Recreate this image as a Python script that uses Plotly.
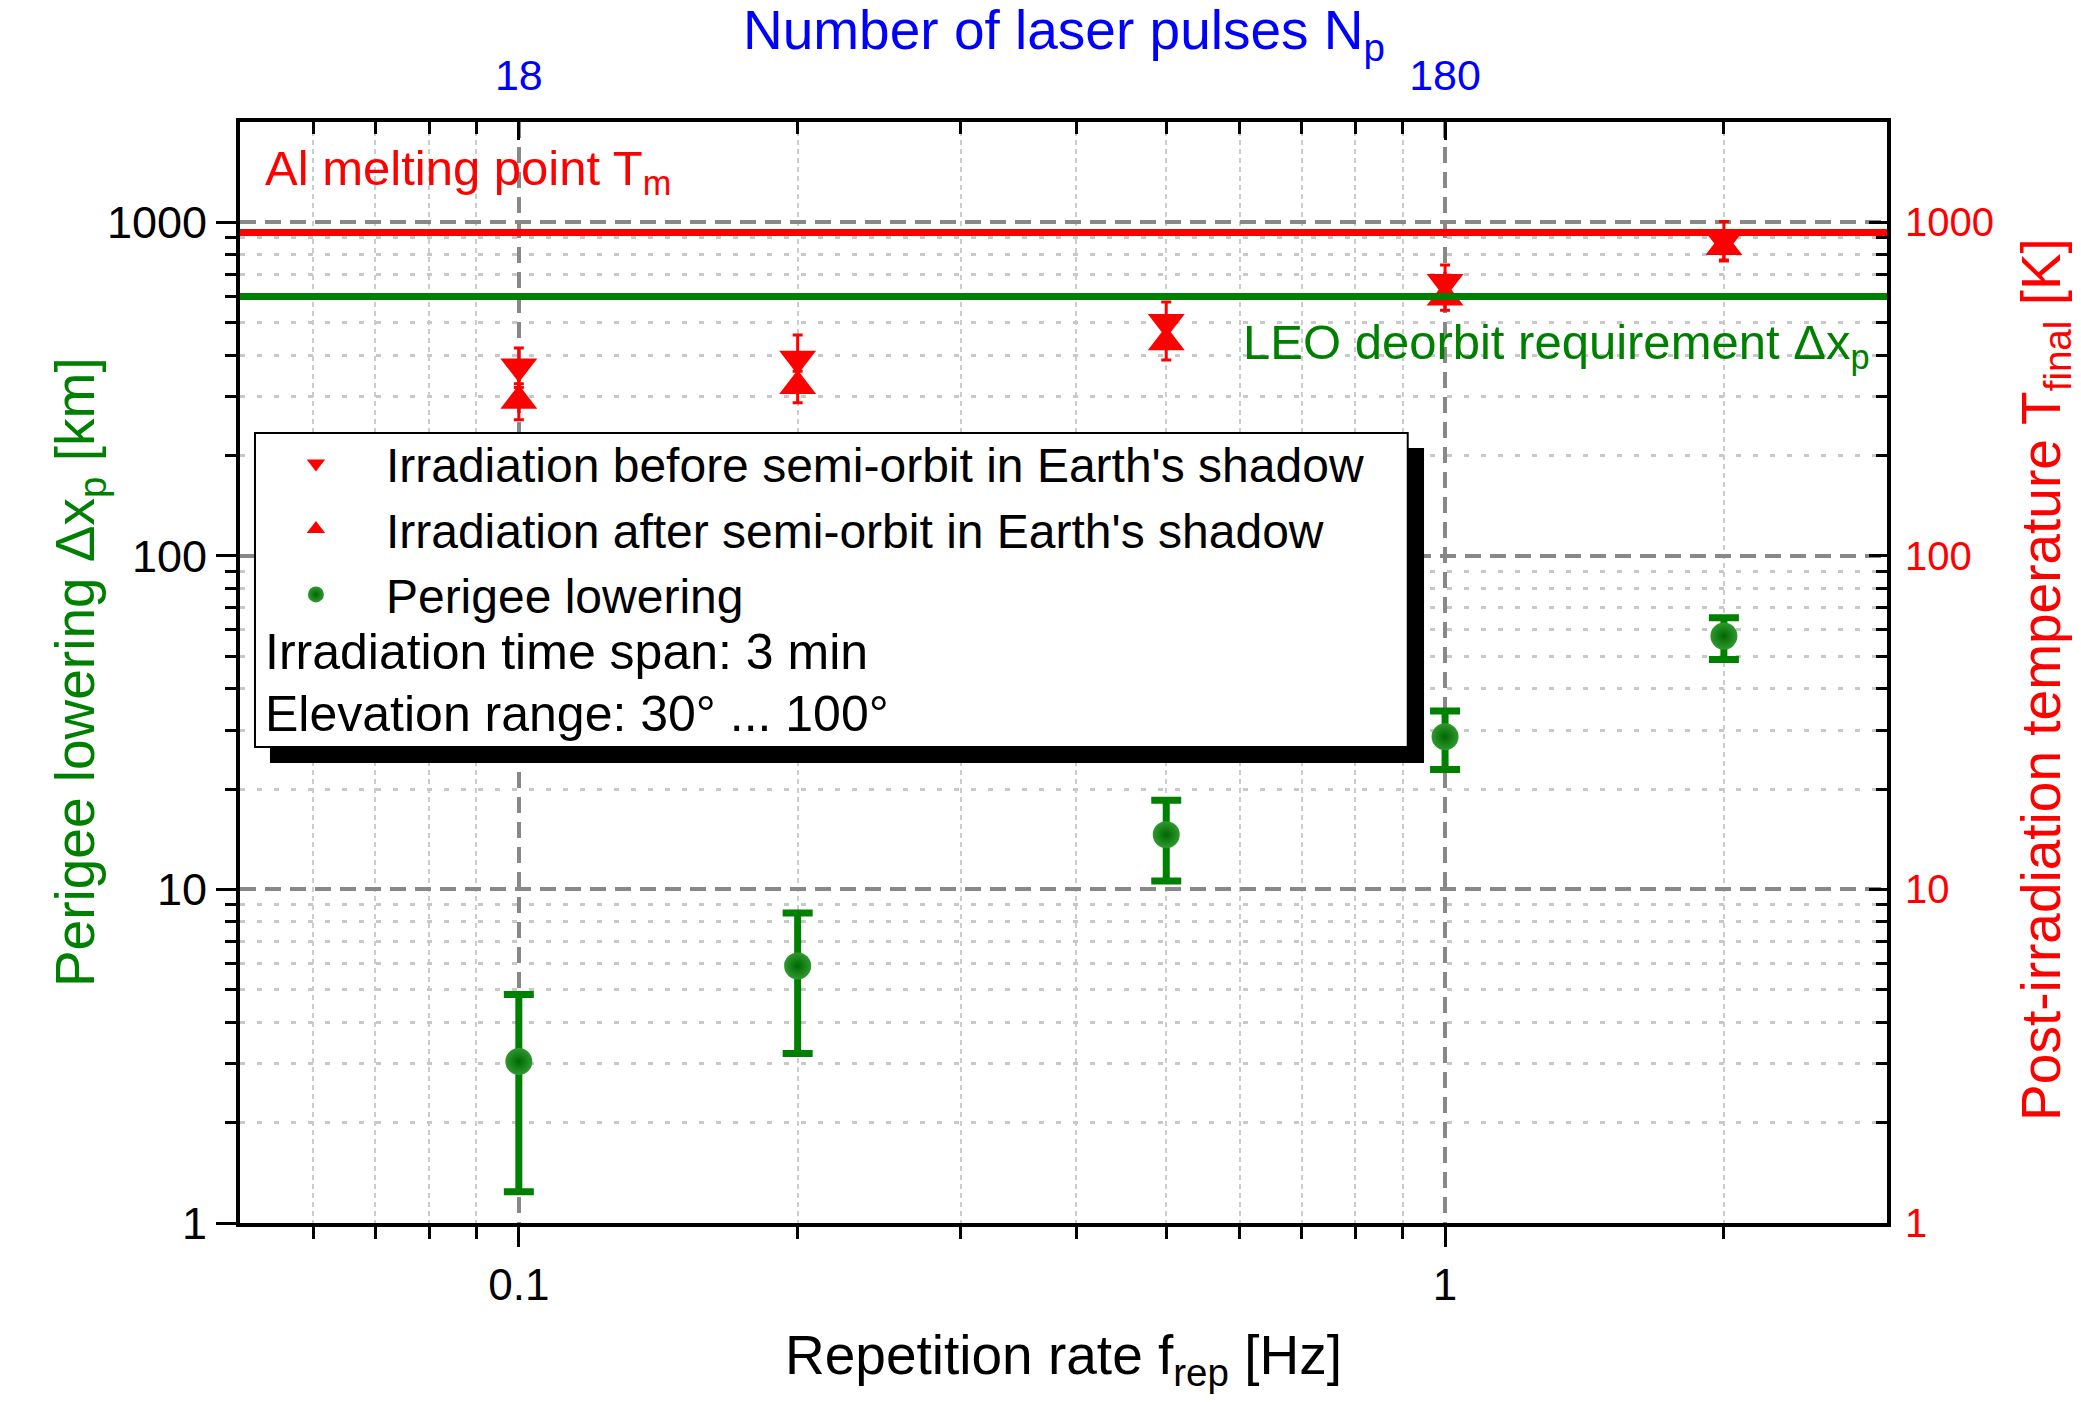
import math
import plotly.graph_objects as go

# ---------------- data ----------------
rep_rate = [0.1, 0.2, 0.5, 1, 2]                      # Hz
perigee = [3.05, 5.9, 14.6, 28.7, 57.5]               # km
perigee_upper = [4.84, 8.5, 18.5, 34.3, 65.3]
perigee_lower = [1.24, 3.22, 10.6, 22.9, 48.9]
T_before = [370, 390, 503, 663, 886]                  # K
T_before_err = [50, 70, 74, 82, 120]
T_after = [292, 323, 437, 595, 844]                   # K
T_after_err = [36, 35, 50, 50, 73]

T_MELT = 933          # Al melting point [K]
LEO_REQ = 600         # LEO deorbit requirement [km]

x_ticks = [0.1, 1]
x_ticktext = ["0.1", "1"]
x_top_ticktext = ["18", "180"]
x_minor = [0.06, 0.07, 0.08, 0.09, 0.2, 0.3, 0.4, 0.5, 0.6, 0.7, 0.8, 0.9, 2]
y_ticks = [1, 10, 100, 1000]
y_ticktext = ["1", "10", "100", "1000"]
y_minor = [2, 3, 4, 5, 6, 7, 8, 9, 20, 30, 40, 50, 60, 70, 80, 90,
           200, 300, 400, 500, 600, 700, 800, 900]
X_RANGE = [0.05, 3]
Y_RANGE = [1, 2000]

FONT = "Liberation Sans, Arial, sans-serif"
GREEN = "#008000"
RED = "#ff0000"
BLUE = "#0000ff"

err_up = [u - v for u, v in zip(perigee_upper, perigee)]
err_dn = [v - l for v, l in zip(perigee, perigee_lower)]

fig = go.Figure()

fig.add_trace(go.Scatter(
    x=rep_rate, y=T_before, mode="markers", yaxis="y2",
    name="Irradiation before semi-orbit in Earth's shadow",
    marker=dict(symbol="triangle-down", size=32, color=RED),
    error_y=dict(type="data", array=T_before_err, color=RED, thickness=3, width=5),
))
fig.add_trace(go.Scatter(
    x=rep_rate, y=T_after, mode="markers", yaxis="y2",
    name="Irradiation after semi-orbit in Earth's shadow",
    marker=dict(symbol="triangle-up", size=32, color=RED),
    error_y=dict(type="data", array=T_after_err, color=RED, thickness=3, width=5),
))
fig.add_trace(go.Scatter(
    x=rep_rate, y=perigee, mode="markers",
    name="Perigee lowering",
    marker=dict(symbol="circle", size=27, color="#2f982f",
                gradient=dict(type="radial", color="#006800")),
    error_y=dict(type="data", symmetric=False, array=err_up, arrayminus=err_dn,
                 color=GREEN, thickness=7, width=15),
))
# invisible trace to bind the top axis
fig.add_trace(go.Scatter(
    x=rep_rate, y=perigee, xaxis="x2", mode="markers",
    marker=dict(opacity=0), showlegend=False, hoverinfo="skip",
))

lx = [math.log10(v) for v in X_RANGE]
ly = [math.log10(v) for v in Y_RANGE]

common_x = dict(type="log", range=lx, showline=True, linecolor="black", linewidth=4,
                zeroline=False, tickmode="array", tickvals=x_ticks, automargin=False)
common_y = dict(type="log", range=ly, showline=True, linecolor="black", linewidth=4,
                zeroline=False, tickmode="array", tickvals=y_ticks, ticktext=y_ticktext,
                automargin=False)

# page body has an 8px margin, so the figure is 16px smaller than the window
fig.update_layout(
    width=2065, height=1386,
    margin=dict(l=232, r=186, t=114, b=171, autoexpand=False),
    paper_bgcolor="white", plot_bgcolor="white",
    font=dict(family=FONT, color="black"),
    xaxis=dict(
        **common_x, ticktext=x_ticktext, side="bottom", anchor="y",
        ticks="outside", ticklen=20, tickwidth=3, tickcolor="black",
        tickfont=dict(size=44, color="black"),
        showgrid=True, gridcolor="#888888", gridwidth=4, griddash="16px,9px",
        minor=dict(tickmode="array", tickvals=x_minor, ticks="outside", ticklen=12,
                   tickwidth=3, tickcolor="black", showgrid=True,
                   gridcolor="#cccccc", gridwidth=2, griddash="5px,4px"),
        title=dict(text="Repetition rate f<sub>rep</sub> [Hz]",
                   font=dict(size=55, color="black"), standoff=40),
    ),
    xaxis2=dict(
        **common_x, ticktext=x_top_ticktext, side="top", overlaying="x", anchor="y",
        ticks="inside", ticklen=18, tickwidth=3, tickcolor="black",
        tickfont=dict(size=43, color=BLUE), ticklabelstandoff=11,
        showgrid=False,
        minor=dict(tickmode="array", tickvals=x_minor, ticks="inside", ticklen=12,
                   tickwidth=3, tickcolor="black", showgrid=False),
    ),
    yaxis=dict(
        **common_y, side="left", anchor="x",
        ticks="outside", ticklen=20, tickwidth=3, tickcolor="black",
        tickfont=dict(size=45, color="black"),
        showgrid=True, gridcolor="#888888", gridwidth=4, griddash="16px,9px",
        minor=dict(tickmode="array", tickvals=y_minor, ticks="outside", ticklen=11,
                   tickwidth=3, tickcolor="black", showgrid=True,
                   gridcolor="#c8c8c8", gridwidth=3, griddash="5px,12px"),
    ),
    yaxis2=dict(
        **common_y, side="right", overlaying="y", anchor="x",
        ticks="inside", ticklen=18, tickwidth=3, tickcolor="black",
        tickfont=dict(size=40, color=RED), ticklabelstandoff=6,
        showgrid=False,
        minor=dict(tickmode="array", tickvals=y_minor, ticks="inside", ticklen=11,
                   tickwidth=3, tickcolor="black", showgrid=False),
    ),
    showlegend=True,
    legend=dict(
        x=0.0036, y=0.724, xanchor="left", yanchor="top",
        bgcolor="rgba(0,0,0,0)", borderwidth=0,
        font=dict(size=48, color="black"), itemwidth=130,
        tracegroupgap=0,
    ),
)

# axis titles placed as annotations for exact position
fig.add_annotation(xref="paper", yref="paper", x=-0.098, y=0.5, xanchor="center",
                   yanchor="middle", showarrow=False, textangle=-90,
                   text="Perigee lowering Δx<sub>p</sub> [km]",
                   font=dict(size=55, color=GREEN, family=FONT))
fig.add_annotation(xref="paper", yref="paper", x=1.0958, y=0.494, xanchor="center",
                   yanchor="middle", showarrow=False, textangle=-90,
                   text="Post-irradiation temperature T<sub>final</sub> [K]",
                   font=dict(size=55, color=RED, family=FONT))
fig.add_annotation(xref="paper", yref="paper", x=0.5, y=1.080, xanchor="center",
                   yanchor="middle", showarrow=False,
                   text="Number of laser pulses N<sub>p</sub>",
                   font=dict(size=55, color=BLUE, family=FONT))

# legend box with drop shadow
fig.add_shape(type="rect", xref="paper", yref="paper",
              x0=0.0182, x1=0.7189, y0=0.4178, y1=0.7039,
              fillcolor="black", line=dict(width=0), layer="above")
fig.add_shape(type="rect", xref="paper", yref="paper",
              x0=0.0091, x1=0.709, y0=0.4323, y1=0.7175,
              fillcolor="white", line=dict(color="black", width=2), layer="above")

# reference lines
fig.add_shape(type="line", xref="paper", yref="y2", x0=0, x1=1, y0=T_MELT, y1=T_MELT,
              line=dict(color=RED, width=7), layer="above")
fig.add_shape(type="line", xref="paper", yref="y", x0=0, x1=1, y0=LEO_REQ, y1=LEO_REQ,
              line=dict(color=GREEN, width=7), layer="above")

fig.add_annotation(xref="paper", yref="paper", x=0.014, y=0.955, xanchor="left",
                   yanchor="middle", showarrow=False,
                   text="Al melting point T<sub>m</sub>",
                   font=dict(size=49, color=RED, family=FONT))
fig.add_annotation(xref="paper", yref="paper", x=0.99, y=0.797, xanchor="right",
                   yanchor="middle", showarrow=False,
                   text="LEO deorbit requirement Δx<sub>p</sub>",
                   font=dict(size=49, color=GREEN, family=FONT))
fig.add_annotation(xref="paper", yref="paper", x=0.014, y=0.5186, xanchor="left",
                   yanchor="middle", showarrow=False,
                   text="Irradiation time span: 3 min",
                   font=dict(size=50, color="black", family=FONT))
fig.add_annotation(xref="paper", yref="paper", x=0.014, y=0.4623, xanchor="left",
                   yanchor="middle", showarrow=False,
                   text="Elevation range: 30° ... 100°",
                   font=dict(size=50, color="black", family=FONT))

fig.write_html("out.html")
